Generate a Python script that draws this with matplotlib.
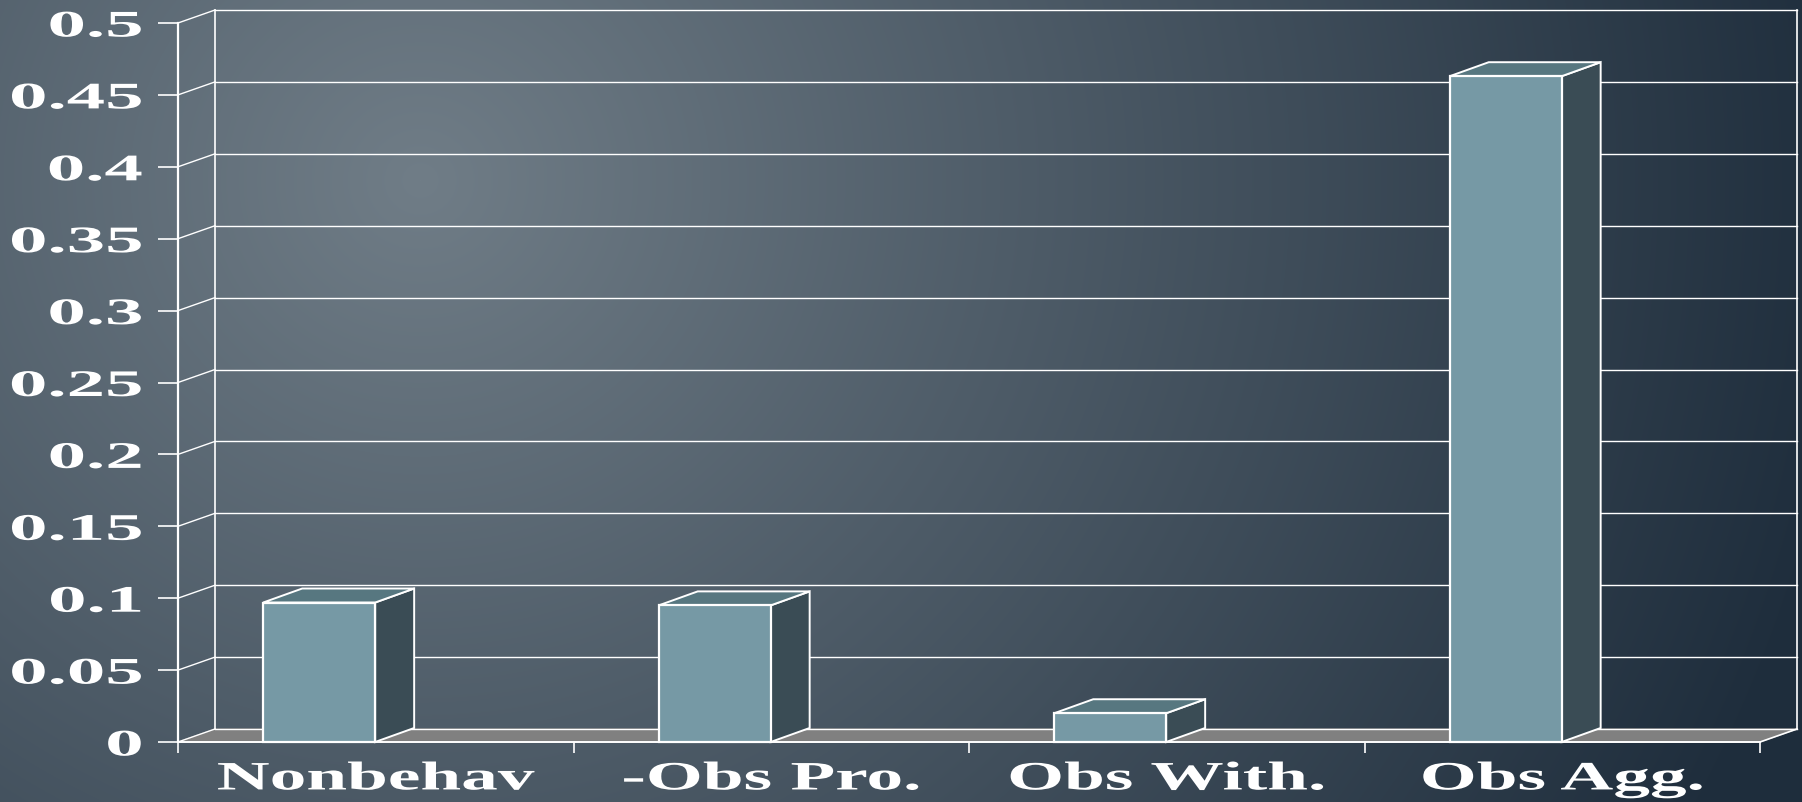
import numpy as np
import matplotlib
matplotlib.use("Agg")
import matplotlib.pyplot as plt
from matplotlib.patheffects import AbstractPathEffect
from matplotlib.transforms import Affine2D

categories = ['Nonbehav', '-Obs Pro.', 'Obs With.', 'Obs Agg.']
values = [0.097, 0.095, 0.020, 0.463]
yticks = [0, 0.05, 0.1, 0.15, 0.2, 0.25, 0.3, 0.35, 0.4, 0.45, 0.5]
ytick_labels = ['0', '0.05', '0.1', '0.15', '0.2', '0.25',
                '0.3', '0.35', '0.4', '0.45', '0.5']

W, H = 1802, 802
front = '#7699A5'
side = '#3A4C55'
top = '#577780'
floor = '#808080'
white = 'white'


class StretchX(AbstractPathEffect):
    """Widen text horizontally, like the stretched slide font."""

    def __init__(self, sx, anchor='center'):
        super().__init__()
        self.sx = sx
        self.anchor = anchor

    def draw_path(self, renderer, gc, tpath, affine, rgbFace=None):
        ext = affine.transform_path(tpath).get_extents()
        x0 = ext.x1 if self.anchor == 'right' else (ext.x0 + ext.x1) / 2
        st = Affine2D().translate(-x0, 0).scale(self.sx, 1).translate(x0, 0)
        renderer.draw_path(gc, tpath, affine + st, rgbFace)


fig = plt.figure(figsize=(W / 100, H / 100), dpi=100)

# background: radial gradient, light top-left to dark navy right
bg = fig.add_axes([0, 0, 1, 1], zorder=-1)
yy, xx = np.mgrid[0:H, 0:W]
r = np.clip(np.hypot(xx - 420, (yy - 180) * 1.05) / 1450, 0, 1)
c0 = np.array([0x70, 0x7D, 0x87]) / 255
c1 = np.array([0x1E, 0x2D, 0x3C]) / 255
img = c0[None, None, :] * (1 - r[..., None]) + c1[None, None, :] * r[..., None]
bg.imshow(img, aspect='auto', extent=[0, W, H, 0])
bg.axis('off')

# front plane of the 3D box
ax = fig.add_axes([178 / W, (H - 742) / H, (1760 - 178) / W, (742 - 23) / H])
ax.set_xlim(0, 4)
ax.set_ylim(0, 0.5)
ax.patch.set_alpha(0)

# depth offset (pixels -> data units)
px_x = 4 / (1760 - 178)
px_y = 0.5 / (742 - 23)
dx, dy = 37 * px_x, 13 * px_y
bdx, bdy = 39 * px_x, 14 * px_y

n = len(categories)

# floor
ax.fill([0, n, n + dx, dx], [0, 0, dy, dy], color=floor, zorder=1,
        clip_on=False)
ax.plot([n, n + dx], [0, dy], color=white, lw=1.2, zorder=2, clip_on=False)

# back wall grid and side-wall diagonals
for t in yticks:
    ax.plot([dx, n + dx], [t + dy, t + dy], color=white, lw=1.0,
            zorder=2, clip_on=False)
    ax.plot([0, dx], [t, t + dy], color=white, lw=1.0, zorder=2,
            clip_on=False)
ax.plot([dx, dx], [dy, yticks[-1] + dy], color=white, lw=1.2, zorder=2,
        clip_on=False)
ax.plot([n + dx, n + dx], [dy, yticks[-1] + dy], color=white, lw=1.2,
        zorder=2, clip_on=False)

# bars
bar_w = 0.283
centers = np.arange(n) + 0.357
for xc, v in zip(centers, values):
    x0, x1 = xc - bar_w / 2, xc + bar_w / 2
    ax.fill([x1, x1 + bdx, x1 + bdx, x1], [0, bdy, v + bdy, v],
            facecolor=side, edgecolor=white, lw=1.4, zorder=3, clip_on=False)
    ax.fill([x0, x1, x1 + bdx, x0 + bdx], [v, v, v + bdy, v + bdy],
            facecolor=top, edgecolor=white, lw=1.4, zorder=3, clip_on=False)
ax.bar(centers, values, width=bar_w, color=front, edgecolor=white,
       linewidth=1.6, zorder=4, clip_on=False)

# spines
for s in ['top', 'right']:
    ax.spines[s].set_visible(False)
ax.spines['left'].set_color(white)
ax.spines['left'].set_linewidth(1.6)
ax.spines['bottom'].set_color(white)
ax.spines['bottom'].set_linewidth(1.4)
ax.spines['left'].set_zorder(5)
ax.spines['bottom'].set_zorder(5)

font = dict(family='Liberation Serif', weight='bold')

ax.set_yticks(yticks, labels=ytick_labels, fontsize=27, color=white, **font)
ax.tick_params(axis='y', direction='out', length=14.4, width=1.2,
               color=white, pad=11.5)
for lbl in ax.get_yticklabels():
    lbl.set_path_effects([StretchX(2.05, 'right')])

ax.set_xticks(range(n + 1), labels=[''] * (n + 1))
ax.tick_params(axis='x', which='major', direction='out', length=8,
               width=1.2, color=white)
ax.set_xticks(np.arange(n) + 0.5, labels=categories, minor=True,
              fontsize=29, color=white, **font)
ax.tick_params(axis='x', which='minor', length=0, pad=14)
for lbl in ax.get_xticklabels(minor=True):
    lbl.set_path_effects([StretchX(1.82, 'center')])

fig.savefig('out.png', dpi=100)
